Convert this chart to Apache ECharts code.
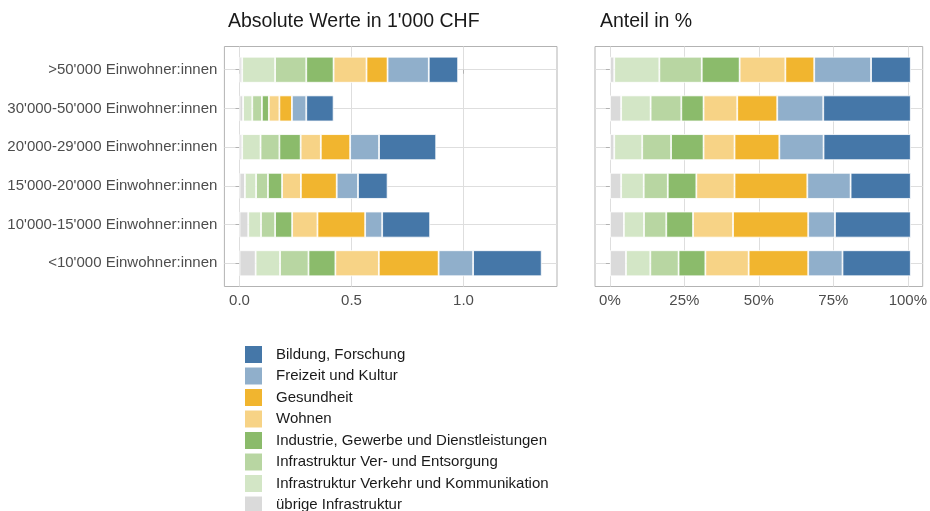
<!DOCTYPE html>
<html>
<head>
<meta charset="utf-8">
<script src="https://cdn.jsdelivr.net/npm/echarts@6/dist/echarts.min.js"></script>
<style>
  html, body { margin: 0; padding: 0; background: #fff; }
  #chart { width: 930px; height: 511px; }
</style>
</head>
<body>
<div id="chart"></div>
<script>
// Gemeindegrössen, von oben nach unten
const categories = [
  ">50'000 Einwohner:innen",
  "30'000-50'000 Einwohner:innen",
  "20'000-29'000 Einwohner:innen",
  "15'000-20'000 Einwohner:innen",
  "10'000-15'000 Einwohner:innen",
  "<10'000 Einwohner:innen"
]

// Bereiche in Stapel-Reihenfolge (links nach rechts)
const areas = [
  'übrige Infrastruktur',
  'Infrastruktur Verkehr und Kommunikation',
  'Infrastruktur Ver- und Entsorgung',
  'Industrie, Gewerbe und Dienstleistungen',
  'Wohnen',
  'Gesundheit',
  'Freizeit und Kultur',
  'Bildung, Forschung'
]
const colors = ['#dadada', '#d3e6c6', '#b8d6a2', '#8bbb6b', '#f7d386', '#f1b52f', '#90afcb', '#4577a8']

// absolute Werte in 1'000 CHF
const absUebrige = [0.012, 0.016, 0.012, 0.024, 0.039, 0.072]
const absVerkehr = [0.147, 0.041, 0.082, 0.050, 0.057, 0.109]
const absVersorgung = [0.139, 0.043, 0.084, 0.053, 0.063, 0.127]
const absIndustrie = [0.122, 0.031, 0.095, 0.063, 0.076, 0.120]
const absWohnen = [0.147, 0.047, 0.090, 0.084, 0.113, 0.194]
const absGesundheit = [0.094, 0.056, 0.131, 0.160, 0.213, 0.267]
const absFreizeit = [0.184, 0.064, 0.129, 0.095, 0.076, 0.154]
const absBildung = [0.131, 0.122, 0.255, 0.132, 0.214, 0.306]

// Anteile in %
const pctUebrige = [1.4, 3.7, 1.4, 3.7, 4.6, 5.3]
const pctVerkehr = [15.0, 9.8, 9.3, 7.5, 6.7, 8.1]
const pctVersorgung = [14.1, 10.2, 9.6, 8.0, 7.4, 9.4]
const pctIndustrie = [12.6, 7.4, 10.8, 9.5, 8.9, 8.9]
const pctWohnen = [15.2, 11.2, 10.3, 12.7, 13.3, 14.4]
const pctGesundheit = [9.6, 13.3, 14.9, 24.2, 25.0, 19.8]
const pctFreizeit = [18.9, 15.3, 14.7, 14.4, 8.9, 11.4]
const pctBildung = [13.2, 29.1, 29.0, 20.0, 25.2, 22.7]

// tick labels
const absTicks = [0, 0.5, 1.0]
const pctTicks = [0, 25, 50, 75, 100]

const absData = [absUebrige, absVerkehr, absVersorgung, absIndustrie, absWohnen, absGesundheit, absFreizeit, absBildung]
const pctData = [pctUebrige, pctVerkehr, pctVersorgung, pctIndustrie, pctWohnen, pctGesundheit, pctFreizeit, pctBildung]

const font = 'Liberation Sans, Arial, sans-serif'
const rowIdx = categories.map((c, i) => i)

// panel geometry (ggplot-like expansion)
const panelTop = 46.5
const panelH = 240
const unit = panelH / 6.2
const left = { x: 224.4, w: 332.6 }
const right = { x: 595, w: 330.8 }

function frameX(gridIndex, min, max, ticks, fmt) {
  return {
    type: 'value', gridIndex, min, max,
    axisLine: { show: false },
    axisTick: { show: true, length: 4, customValues: ticks, lineStyle: { color: '#b3b3b3' } },
    axisLabel: { customValues: ticks, margin: 7, color: '#4d4d4d', fontSize: 15, fontFamily: font, formatter: fmt },
    splitLine: { show: true, lineStyle: { color: '#dedede', width: 1 } }
  }
}
function frameY(gridIndex, showLabels) {
  return {
    type: 'value', gridIndex, min: -0.6, max: 5.6, inverse: true,
    axisLine: { show: false },
    axisTick: { show: true, length: 4, customValues: rowIdx, lineStyle: { color: '#b3b3b3' } },
    axisLabel: {
      show: showLabels, customValues: rowIdx, margin: 7, color: '#4d4d4d',
      fontSize: 15, fontFamily: font, formatter: v => categories[Math.round(v)]
    },
    splitLine: { show: true, lineStyle: { color: '#dedede', width: 1 } }
  }
}
function dataX(gridIndex, min, max) {
  return { type: 'value', gridIndex, min, max, show: false, splitLine: { show: false } }
}
function dataY(gridIndex) {
  return { type: 'category', gridIndex, data: categories, inverse: true, show: false }
}

const series = []
areas.forEach((name, k) => {
  series.push({
    name, type: 'bar', stack: 'abs', xAxisIndex: 2, yAxisIndex: 2,
    data: absData[k], barWidth: 26,
    itemStyle: { color: colors[k], borderColor: '#fff', borderWidth: 0.8 },
    emphasis: { disabled: true }
  })
  series.push({
    name, type: 'bar', stack: 'pct', xAxisIndex: 3, yAxisIndex: 3,
    data: pctData[k], barWidth: 26,
    itemStyle: { color: colors[k], borderColor: '#fff', borderWidth: 0.8 },
    emphasis: { disabled: true }
  })
})

const chart = echarts.init(document.getElementById('chart'))
chart.setOption({
  animation: false,
  backgroundColor: '#fff',
  title: [
    { text: "Absolute Werte in 1'000 CHF", left: 228, top: 12, padding: 0, textStyle: { fontSize: 19.5, fontWeight: 'normal', color: '#1a1a1a', fontFamily: font } },
    { text: 'Anteil in %', left: 600, top: 12, padding: 0, textStyle: { fontSize: 19.5, fontWeight: 'normal', color: '#1a1a1a', fontFamily: font } }
  ],
  legend: {
    orient: 'vertical',
    left: 243,
    top: 344,
    height: 300,
    padding: 0,
    data: areas.slice().reverse(),
    icon: 'rect',
    itemWidth: 19,
    itemHeight: 19,
    itemGap: 0.5,
    selectedMode: false,
    textStyle: { fontSize: 15, lineHeight: 19, color: '#1a1a1a', fontFamily: font, padding: [0, 0, 0, 8] }
  },
  grid: [
    { left: left.x, top: panelTop, width: left.w, height: panelH, show: true, borderColor: '#b3b3b3', borderWidth: 1, backgroundColor: '#fff', containLabel: false },
    { left: right.x, top: panelTop, width: right.w, height: panelH, show: true, borderColor: '#b3b3b3', borderWidth: 1, backgroundColor: '#fff', containLabel: false },
    { left: left.x, top: panelTop + 0.1 * unit, width: left.w, height: 6 * unit, containLabel: false },
    { left: right.x, top: panelTop + 0.1 * unit, width: right.w, height: 6 * unit, containLabel: false }
  ],
  xAxis: [
    frameX(0, -0.0675, 1.4175, absTicks, v => v.toFixed(1)),
    frameX(1, -5, 105, pctTicks, v => v + '%'),
    dataX(2, -0.0675, 1.4175),
    dataX(3, -5, 105)
  ],
  yAxis: [
    frameY(0, true),
    frameY(1, false),
    dataY(2),
    dataY(3)
  ],
  series
})
</script>
</body>
</html>
